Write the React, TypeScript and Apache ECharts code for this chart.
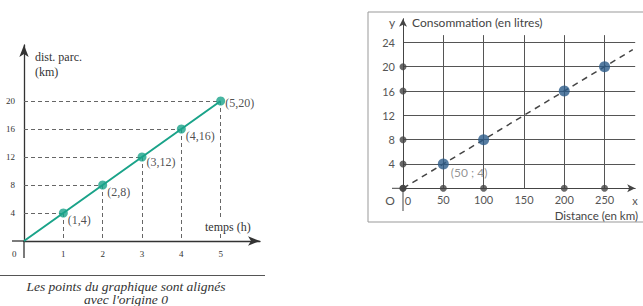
import React, { useEffect, useRef } from "react";
import * as echarts from "echarts";

// Left chart: time (h) vs distance travelled (km)
const leftTimes = [1, 2, 3, 4, 5];
const leftDistances = [4, 8, 12, 16, 20];
const leftYTickLabels = [4, 8, 12, 16, 20];
const leftXTickLabels = [1, 2, 3, 4, 5];

// Right chart: distance (km) vs consumption (litres)
const rightDistances = [50, 100, 200, 250];
const rightLitres = [4, 8, 16, 20];
const rightYAxisDots = [0, 4, 8, 16, 20];
const rightXAxisDots = [0, 50, 100, 200, 250];
const rightGridX = [50, 100, 150, 200, 250];
const rightYTickLabels = [4, 8, 12, 16, 20, 24];
const rightXTickLabels = [50, 100, 150, 200, 250];
const rightLineEnd = [285, 22.8];

const SERIF = "'Liberation Serif', 'DejaVu Serif', serif";
const SANS = "Lato, 'Noto Sans', sans-serif";

export default function App() {
  const ref = useRef<HTMLDivElement>(null);
  useEffect(() => {
    if (!ref.current) return;
    const chart = echarts.init(ref.current, undefined, { renderer: "svg" });

    const leftLabelOffsets = [
      [0, 7],
      [0, 7],
      [0, 5],
      [0, 7],
      [0, 2],
    ];

    const leftGuides: any[] = [];
    leftTimes.forEach((t, i) => {
      const d = leftDistances[i];
      leftGuides.push([{ coord: [0, d] }, { coord: [t, d] }]);
      leftGuides.push([{ coord: [t, d] }, { coord: [t, 0] }]);
    });

    const rightVertical = rightGridX.map((x) => [
      { coord: [x, 0] },
      { coord: [x, 25.2] },
    ]);

    const option: any = {
      animation: false,
      grid: [
        { left: 24, top: 45, width: 236, height: 196 },
        { left: 403, top: 18.7, width: 232.2, height: 169.6 },
      ],
      xAxis: [
        {
          gridIndex: 0,
          type: "value",
          min: 0,
          max: 6,
          interval: 1,
          axisLine: {
            show: true,
            symbol: ["none", "arrow"],
            symbolSize: [7, 12],
            lineStyle: { color: "#333", width: 1.3 },
          },
          axisTick: { show: false },
          splitLine: { show: false },
          axisLabel: {
            margin: 8,
            fontSize: 9,
            fontFamily: SERIF,
            color: "#333",
            formatter: (v: number) =>
              leftXTickLabels.includes(v) ? String(v) : "",
          },
        },
        {
          gridIndex: 1,
          type: "value",
          min: 0,
          max: 288,
          interval: 50,
          axisLine: {
            show: true,
            symbol: ["none", "arrow"],
            symbolSize: [6, 8],
            lineStyle: { color: "#444", width: 1 },
          },
          axisTick: { show: false },
          splitLine: { show: false },
          axisLabel: {
            margin: 6,
            fontSize: 11,
            fontFamily: SANS,
            color: "#555",
            formatter: (v: number) =>
              rightXTickLabels.includes(v) ? String(v) : "",
          },
        },
      ],
      yAxis: [
        {
          gridIndex: 0,
          type: "value",
          min: 0,
          max: 28,
          interval: 4,
          axisLine: {
            show: true,
            symbol: ["none", "arrow"],
            symbolSize: [7, 12],
            lineStyle: { color: "#333", width: 1.3 },
          },
          axisTick: { show: false },
          splitLine: { show: false },
          axisLabel: {
            margin: 9,
            fontSize: 9,
            fontFamily: SERIF,
            color: "#333",
            formatter: (v: number) =>
              leftYTickLabels.includes(v) ? String(v) : "",
          },
        },
        {
          gridIndex: 1,
          type: "value",
          min: 0,
          max: 27.9,
          interval: 4,
          axisLine: {
            show: true,
            symbol: ["none", "arrow"],
            symbolSize: [6, 8],
            lineStyle: { color: "#444", width: 1 },
          },
          axisTick: { show: false },
          splitLine: {
            show: true,
            showMinLine: false,
            showMaxLine: false,
            lineStyle: { color: "#555", width: 1 },
          },
          axisLabel: {
            margin: 8,
            fontSize: 11,
            fontFamily: SANS,
            color: "#555",
            formatter: (v: number) =>
              rightYTickLabels.includes(v) ? String(v) : "",
          },
        },
      ],
      series: [
        {
          type: "line",
          xAxisIndex: 0,
          yAxisIndex: 0,
          data: [[0, 0], ...leftTimes.map((t, i) => [t, leftDistances[i]])],
          symbol: "none",
          lineStyle: { color: "#1aa389", width: 2 },
          z: 3,
          markLine: {
            silent: true,
            symbol: ["none", "none"],
            label: { show: false },
            lineStyle: { type: [4, 3], color: "#666", width: 1 },
            data: leftGuides,
            z: 1,
          },
        },
        {
          type: "scatter",
          xAxisIndex: 0,
          yAxisIndex: 0,
          symbolSize: 9,
          itemStyle: { color: "#1aa389" },
          z: 4,
          data: leftTimes.map((t, i) => ({
            value: [t, leftDistances[i]],
            label: { offset: leftLabelOffsets[i] },
          })),
          label: {
            show: true,
            position: "right",
            distance: 0,
            fontFamily: SERIF,
            fontSize: 12,
            color: "#222",
            formatter: (p: any) => `(${p.value[0]},${p.value[1]})`,
          },
        },
        {
          type: "line",
          xAxisIndex: 1,
          yAxisIndex: 1,
          data: [[0, 0], rightLineEnd],
          symbol: "none",
          lineStyle: { color: "#444", width: 1.5, type: [6, 5] },
          z: 3,
          markLine: {
            silent: true,
            symbol: ["none", "none"],
            label: { show: false },
            lineStyle: { type: "solid", color: "#555", width: 1 },
            data: rightVertical,
            z: 1,
          },
        },
        {
          type: "scatter",
          xAxisIndex: 1,
          yAxisIndex: 1,
          symbolSize: 7,
          itemStyle: { color: "#444" },
          z: 4,
          data: [
            ...rightYAxisDots.map((v) => [0, v]),
            ...rightXAxisDots.map((v) => [v, 0]),
          ],
        },
        {
          type: "scatter",
          xAxisIndex: 1,
          yAxisIndex: 1,
          symbolSize: 11,
          itemStyle: { color: "#2c5b8a" },
          z: 5,
          data: rightDistances.map((d, i) => ({
            value: [d, rightLitres[i]],
            label:
              i === 0
                ? {
                    show: true,
                    position: "right",
                    distance: 2,
                    offset: [0, 9],
                    fontFamily: SANS,
                    fontSize: 12,
                    color: "#777",
                    formatter: (p: any) => `(${p.value[0]} ; ${p.value[1]})`,
                  }
                : { show: false },
          })),
        },
      ],
      graphic: [
        // left chart: axis stubs past the origin
        {
          type: "line",
          shape: { x1: 24, y1: 241, x2: 24, y2: 258 },
          style: { stroke: "#333", lineWidth: 1.3 },
        },
        {
          type: "line",
          shape: { x1: 12, y1: 241, x2: 24, y2: 241 },
          style: { stroke: "#333", lineWidth: 1.3 },
        },
        {
          type: "text",
          left: 35,
          top: 51,
          style: { text: "dist. parc.", font: `12px ${SERIF}`, fill: "#333" },
        },
        {
          type: "text",
          left: 35,
          top: 66,
          style: { text: "(km)", font: `12px ${SERIF}`, fill: "#333" },
        },
        {
          type: "text",
          left: 203,
          top: 220,
          z: 100,
          style: {
            text: "temps (h)",
            font: `12px ${SERIF}`,
            fill: "#333",
            backgroundColor: "#fff",
            padding: [1, 2],
          },
        },
        {
          type: "text",
          left: 12,
          top: 249,
          style: { text: "0", font: `9px ${SERIF}`, fill: "#333" },
        },
        {
          type: "line",
          shape: { x1: 0, y1: 275.5, x2: 265, y2: 275.5 },
          style: { stroke: "#555", lineWidth: 1 },
        },
        {
          type: "text",
          x: 126,
          y: 293,
          style: {
            text: "Les points du graphique sont alignés\navec l'origine 0",
            font: `italic 13.5px ${SERIF}`,
            lineHeight: 13.5,
            fill: "#333",
            align: "center",
            verticalAlign: "middle",
          },
        },
        // right chart frame, axis stubs and texts
        {
          type: "rect",
          shape: { x: 368, y: 12, width: 300, height: 210 },
          style: { fill: "none", stroke: "#999", lineWidth: 1 },
          z: -1,
        },
        {
          type: "line",
          shape: { x1: 403, y1: 188.3, x2: 403, y2: 211 },
          style: { stroke: "#444", lineWidth: 1 },
        },
        {
          type: "line",
          shape: { x1: 392, y1: 188.3, x2: 403, y2: 188.3 },
          style: { stroke: "#444", lineWidth: 1 },
        },
        {
          type: "text",
          x: 392,
          y: 22,
          style: {
            text: "y",
            font: `12px ${SANS}`,
            fill: "#555",
            align: "center",
            verticalAlign: "middle",
          },
        },
        {
          type: "text",
          x: 412,
          y: 22,
          style: {
            text: "Consommation (en litres)",
            font: `12px ${SANS}`,
            fill: "#444",
            align: "left",
            verticalAlign: "middle",
          },
        },
        {
          type: "text",
          x: 390,
          y: 200,
          style: {
            text: "O",
            font: `12px ${SANS}`,
            fill: "#555",
            align: "center",
            verticalAlign: "middle",
          },
        },
        {
          type: "text",
          x: 408,
          y: 200,
          style: {
            text: "0",
            font: `11px ${SANS}`,
            fill: "#555",
            align: "center",
            verticalAlign: "middle",
          },
        },
        {
          type: "text",
          x: 635,
          y: 200,
          style: {
            text: "x",
            font: `11px ${SANS}`,
            fill: "#555",
            align: "center",
            verticalAlign: "middle",
          },
        },
        {
          type: "text",
          x: 638,
          y: 215,
          style: {
            text: "Distance (en km)",
            font: `11.5px ${SANS}`,
            fill: "#444",
            align: "right",
            verticalAlign: "middle",
          },
        },
      ],
    };
    chart.setOption(option);
    return () => chart.dispose();
  }, []);

  return (
    <div
      ref={ref}
      style={{
        width: 643,
        height: 306,
        position: "absolute",
        left: 0,
        top: 0,
        background: "#fff",
      }}
    />
  );
}
